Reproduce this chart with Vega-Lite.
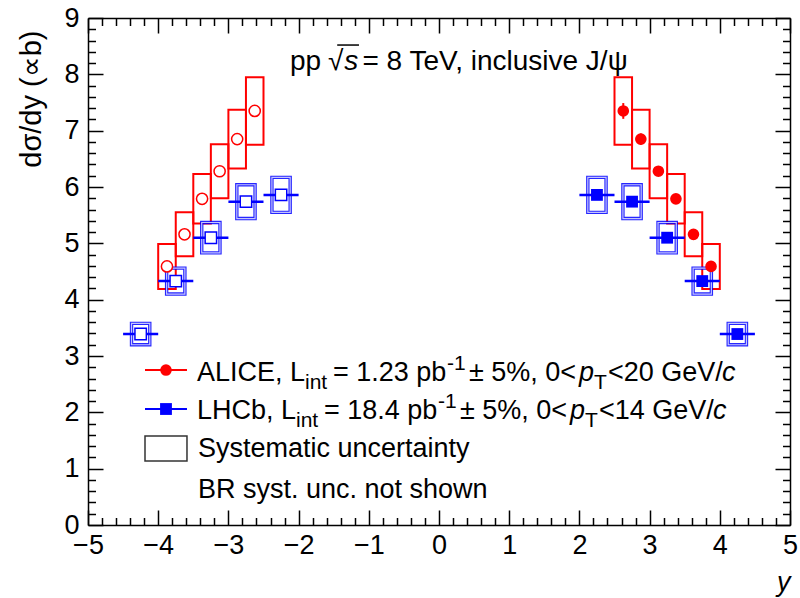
{
  "$schema": "https://vega.github.io/schema/vega-lite/v6.json",
  "width": 702,
  "height": 507,
  "autosize": {"type": "none"},
  "padding": {"left": 88, "top": 18, "right": 10, "bottom": 73},
  "background": "white",
  "config": {
    "view": {"stroke": null},
    "font": "Liberation Sans",
    "axis": {"labelFont": "Liberation Sans", "titleFont": "Liberation Sans", "grid": false, "tickColor": "black", "domainColor": "black", "labelColor": "black", "titleColor": "black", "tickWidth": 1.5, "domainWidth": 1.5}
  },
  "datasets": {
    "pts": [
      {"exp": "ALICE", "side": "meas", "rap": 2.625, "val": 7.35, "statLo": 7.21, "statHi": 7.49, "sysLo": 6.75, "sysHi": 7.95, "boxLo": 2.5, "boxHi": 2.75},
      {"exp": "ALICE", "side": "meas", "rap": 2.875, "val": 6.85, "statLo": 6.75, "statHi": 6.95, "sysLo": 6.33, "sysHi": 7.37, "boxLo": 2.75, "boxHi": 3.0},
      {"exp": "ALICE", "side": "meas", "rap": 3.125, "val": 6.28, "statLo": 6.2, "statHi": 6.36, "sysLo": 5.8, "sysHi": 6.76, "boxLo": 3.0, "boxHi": 3.25},
      {"exp": "ALICE", "side": "meas", "rap": 3.375, "val": 5.79, "statLo": 5.72, "statHi": 5.86, "sysLo": 5.35, "sysHi": 6.23, "boxLo": 3.25, "boxHi": 3.5},
      {"exp": "ALICE", "side": "meas", "rap": 3.625, "val": 5.16, "statLo": 5.09, "statHi": 5.23, "sysLo": 4.77, "sysHi": 5.55, "boxLo": 3.5, "boxHi": 3.75},
      {"exp": "ALICE", "side": "meas", "rap": 3.875, "val": 4.59, "statLo": 4.52, "statHi": 4.66, "sysLo": 4.19, "sysHi": 4.99, "boxLo": 3.75, "boxHi": 4.0},
      {"exp": "ALICE", "side": "refl", "rap": -2.625, "val": 7.35, "statLo": 7.21, "statHi": 7.49, "sysLo": 6.75, "sysHi": 7.95, "boxLo": -2.75, "boxHi": -2.5},
      {"exp": "ALICE", "side": "refl", "rap": -2.875, "val": 6.85, "statLo": 6.75, "statHi": 6.95, "sysLo": 6.33, "sysHi": 7.37, "boxLo": -3.0, "boxHi": -2.75},
      {"exp": "ALICE", "side": "refl", "rap": -3.125, "val": 6.28, "statLo": 6.2, "statHi": 6.36, "sysLo": 5.8, "sysHi": 6.76, "boxLo": -3.25, "boxHi": -3.0},
      {"exp": "ALICE", "side": "refl", "rap": -3.375, "val": 5.79, "statLo": 5.72, "statHi": 5.86, "sysLo": 5.35, "sysHi": 6.23, "boxLo": -3.5, "boxHi": -3.25},
      {"exp": "ALICE", "side": "refl", "rap": -3.625, "val": 5.16, "statLo": 5.09, "statHi": 5.23, "sysLo": 4.77, "sysHi": 5.55, "boxLo": -3.75, "boxHi": -3.5},
      {"exp": "ALICE", "side": "refl", "rap": -3.875, "val": 4.59, "statLo": 4.52, "statHi": 4.66, "sysLo": 4.19, "sysHi": 4.99, "boxLo": -4.0, "boxHi": -3.75},
      {"exp": "LHCb", "side": "meas", "rap": 2.25, "val": 5.86, "statLo": 5.83, "statHi": 5.89, "sysLo": 5.55, "sysHi": 6.17, "boxLo": 2.12, "boxHi": 2.38, "errLo": 2.0, "errHi": 2.5},
      {"exp": "LHCb", "side": "meas", "rap": 2.75, "val": 5.74, "statLo": 5.71, "statHi": 5.77, "sysLo": 5.44, "sysHi": 6.04, "boxLo": 2.62, "boxHi": 2.88, "errLo": 2.5, "errHi": 3.0},
      {"exp": "LHCb", "side": "meas", "rap": 3.25, "val": 5.1, "statLo": 5.07, "statHi": 5.13, "sysLo": 4.83, "sysHi": 5.37, "boxLo": 3.12, "boxHi": 3.38, "errLo": 3.0, "errHi": 3.5},
      {"exp": "LHCb", "side": "meas", "rap": 3.75, "val": 4.33, "statLo": 4.3, "statHi": 4.36, "sysLo": 4.1, "sysHi": 4.56, "boxLo": 3.62, "boxHi": 3.88, "errLo": 3.5, "errHi": 4.0},
      {"exp": "LHCb", "side": "meas", "rap": 4.25, "val": 3.39, "statLo": 3.36, "statHi": 3.42, "sysLo": 3.2, "sysHi": 3.58, "boxLo": 4.12, "boxHi": 4.38, "errLo": 4.0, "errHi": 4.5},
      {"exp": "LHCb", "side": "refl", "rap": -2.25, "val": 5.86, "statLo": 5.83, "statHi": 5.89, "sysLo": 5.55, "sysHi": 6.17, "boxLo": -2.38, "boxHi": -2.12, "errLo": -2.5, "errHi": -2.0},
      {"exp": "LHCb", "side": "refl", "rap": -2.75, "val": 5.74, "statLo": 5.71, "statHi": 5.77, "sysLo": 5.44, "sysHi": 6.04, "boxLo": -2.88, "boxHi": -2.62, "errLo": -3.0, "errHi": -2.5},
      {"exp": "LHCb", "side": "refl", "rap": -3.25, "val": 5.1, "statLo": 5.07, "statHi": 5.13, "sysLo": 4.83, "sysHi": 5.37, "boxLo": -3.38, "boxHi": -3.12, "errLo": -3.5, "errHi": -3.0},
      {"exp": "LHCb", "side": "refl", "rap": -3.75, "val": 4.33, "statLo": 4.3, "statHi": 4.36, "sysLo": 4.1, "sysHi": 4.56, "boxLo": -3.88, "boxHi": -3.62, "errLo": -4.0, "errHi": -3.5},
      {"exp": "LHCb", "side": "refl", "rap": -4.25, "val": 3.39, "statLo": 3.36, "statHi": 3.42, "sysLo": 3.2, "sysHi": 3.58, "boxLo": -4.38, "boxHi": -4.12, "errLo": -4.5, "errHi": -4.0}
    ],
    "one": [{}]
  },
  "data": {"name": "pts"},
  "resolve": {"axis": {"x": "independent", "y": "independent"}},
  "layer": [
    {
      "transform": [{"filter": "datum.exp == 'ALICE'"}],
      "mark": {"type": "rect", "filled": false, "stroke": "#ff0000", "strokeWidth": 2},
      "encoding": {
        "x": {"field": "boxLo", "type": "quantitative", "scale": {"domain": [-5, 5], "nice": false, "zero": false},
          "axis": {"orient": "bottom", "values": [-5, -4, -3, -2, -1, 0, 1, 2, 3, 4, 5], "format": "d", "tickSize": -15, "labelFontSize": 27, "labelPadding": 22, "labelFlush": false, "labelOverlap": false, "domain": true,
            "title": "y", "titleFontStyle": "italic", "titleFontWeight": "normal", "titleFontSize": 27, "titleAnchor": "end", "titleAlign": "right", "titleBaseline": "alphabetic", "titleX": 702, "titleY": 65}},
        "x2": {"field": "boxHi"},
        "y": {"field": "sysLo", "type": "quantitative", "scale": {"domain": [0, 9], "nice": false, "zero": false},
          "axis": {"orient": "left", "values": [0, 1, 2, 3, 4, 5, 6, 7, 8, 9], "format": "d", "tickSize": -15, "labelFontSize": 27, "labelPadding": 24, "labelFlush": false, "labelOverlap": false, "domain": true,
            "title": "dσ/dy (∝b)", "titleFontWeight": "normal", "titleFontSize": 29, "titleAngle": 270, "titleAnchor": "end", "titleAlign": "right", "titleBaseline": "alphabetic", "titleX": -48, "titleY": 12}},
        "y2": {"field": "sysHi"}
      }
    },
    {
      "transform": [{"filter": "datum.exp == 'LHCb'"}],
      "mark": {"type": "rect", "filled": false, "stroke": "#0000ff", "strokeWidth": 3.4, "strokeOpacity": 0.85},
      "encoding": {
        "x": {"field": "boxLo", "type": "quantitative",
          "axis": {"orient": "bottom", "values": [-4.8, -4.6, -4.4, -4.2, -3.8, -3.6, -3.4, -3.2, -2.8, -2.6, -2.4, -2.2, -1.8, -1.6, -1.4, -1.2, -0.8, -0.6, -0.4, -0.2, 0.2, 0.4, 0.6, 0.8, 1.2, 1.4, 1.6, 1.8, 2.2, 2.4, 2.6, 2.8, 3.2, 3.4, 3.6, 3.8, 4.2, 4.4, 4.6, 4.8], "tickSize": -7.5, "labels": false, "domain": false, "title": null}},
        "x2": {"field": "boxHi"},
        "y": {"field": "sysLo", "type": "quantitative",
          "axis": {"orient": "left", "values": [0.2, 0.4, 0.6, 0.8, 1.2, 1.4, 1.6, 1.8, 2.2, 2.4, 2.6, 2.8, 3.2, 3.4, 3.6, 3.8, 4.2, 4.4, 4.6, 4.8, 5.2, 5.4, 5.6, 5.8, 6.2, 6.4, 6.6, 6.8, 7.2, 7.4, 7.6, 7.8, 8.2, 8.4, 8.6, 8.8], "tickSize": -7.5, "labels": false, "domain": false, "title": null}},
        "y2": {"field": "sysHi"}
      }
    },
    {
      "transform": [{"filter": "datum.exp == 'LHCb'"}],
      "mark": {"type": "rect", "filled": false, "stroke": "#c4c4ff", "strokeWidth": 1.2},
      "encoding": {
        "x": {"field": "boxLo", "type": "quantitative",
          "axis": {"orient": "top", "values": [-5, -4, -3, -2, -1, 0, 1, 2, 3, 4, 5], "tickSize": -15, "labels": false, "domain": true, "title": null}},
        "x2": {"field": "boxHi"},
        "y": {"field": "sysLo", "type": "quantitative",
          "axis": {"orient": "right", "values": [0, 1, 2, 3, 4, 5, 6, 7, 8, 9], "tickSize": -15, "labels": false, "domain": true, "title": null}},
        "y2": {"field": "sysHi"}
      }
    },
    {
      "transform": [{"filter": "datum.exp == 'LHCb'"}],
      "mark": {"type": "rule", "stroke": "#0000ff", "strokeWidth": 2.5},
      "encoding": {
        "x": {"field": "errLo", "type": "quantitative",
          "axis": {"orient": "top", "values": [-4.8, -4.6, -4.4, -4.2, -3.8, -3.6, -3.4, -3.2, -2.8, -2.6, -2.4, -2.2, -1.8, -1.6, -1.4, -1.2, -0.8, -0.6, -0.4, -0.2, 0.2, 0.4, 0.6, 0.8, 1.2, 1.4, 1.6, 1.8, 2.2, 2.4, 2.6, 2.8, 3.2, 3.4, 3.6, 3.8, 4.2, 4.4, 4.6, 4.8], "tickSize": -7.5, "labels": false, "domain": false, "title": null}},
        "x2": {"field": "errHi"},
        "y": {"field": "val", "type": "quantitative",
          "axis": {"orient": "right", "values": [0.2, 0.4, 0.6, 0.8, 1.2, 1.4, 1.6, 1.8, 2.2, 2.4, 2.6, 2.8, 3.2, 3.4, 3.6, 3.8, 4.2, 4.4, 4.6, 4.8, 5.2, 5.4, 5.6, 5.8, 6.2, 6.4, 6.6, 6.8, 7.2, 7.4, 7.6, 7.8, 8.2, 8.4, 8.6, 8.8], "tickSize": -7.5, "labels": false, "domain": false, "title": null}}
      }
    },
    {
      "transform": [{"filter": "datum.exp == 'ALICE' && datum.side == 'meas'"}],
      "mark": {"type": "rule", "stroke": "#ff0000", "strokeWidth": 2},
      "encoding": {
        "x": {"field": "rap", "type": "quantitative", "axis": null},
        "y": {"field": "statLo", "type": "quantitative", "axis": null},
        "y2": {"field": "statHi"}
      }
    },
    {
      "transform": [{"filter": "datum.exp == 'ALICE' && datum.side == 'meas'"}],
      "mark": {"type": "point", "shape": "circle", "filled": true, "fill": "#ff0000", "stroke": null, "size": 135, "opacity": 1},
      "encoding": {
        "x": {"field": "rap", "type": "quantitative", "axis": null},
        "y": {"field": "val", "type": "quantitative", "axis": null}
      }
    },
    {
      "transform": [{"filter": "datum.exp == 'ALICE' && datum.side == 'refl'"}],
      "mark": {"type": "point", "shape": "circle", "filled": true, "fill": "white", "stroke": "#ff0000", "strokeWidth": 1.5, "size": 125, "opacity": 1},
      "encoding": {
        "x": {"field": "rap", "type": "quantitative", "axis": null},
        "y": {"field": "val", "type": "quantitative", "axis": null}
      }
    },
    {
      "transform": [{"filter": "datum.exp == 'LHCb' && datum.side == 'meas'"}],
      "mark": {"type": "point", "shape": "square", "filled": true, "fill": "#0000ff", "stroke": null, "size": 140, "opacity": 1},
      "encoding": {
        "x": {"field": "rap", "type": "quantitative", "axis": null},
        "y": {"field": "val", "type": "quantitative", "axis": null}
      }
    },
    {
      "transform": [{"filter": "datum.exp == 'LHCb' && datum.side == 'refl'"}],
      "mark": {"type": "point", "shape": "square", "filled": true, "fill": "white", "stroke": "#0000ff", "strokeWidth": 1.5, "size": 130, "opacity": 1},
      "encoding": {
        "x": {"field": "rap", "type": "quantitative", "axis": null},
        "y": {"field": "val", "type": "quantitative", "axis": null}
      }
    },
    {
      "data": {"name": "one"},
      "mark": {"type": "text", "align": "left", "baseline": "alphabetic", "fontSize": 28, "font": "Liberation Sans", "color": "black"},
      "encoding": {"x": {"datum": -2.1225, "type": "quantitative", "axis": null}, "y": {"datum": 8.077, "type": "quantitative", "axis": null}, "text": {"value": "pp"}}
    },
    {
      "data": {"name": "one"},
      "mark": {"type": "text", "align": "left", "baseline": "alphabetic", "fontSize": 28, "font": "Liberation Sans", "color": "black"},
      "encoding": {"x": {"datum": -1.58, "type": "quantitative", "axis": null}, "y": {"datum": 8.077, "type": "quantitative", "axis": null}, "text": {"value": "√"}}
    },
    {
      "data": {"name": "one"},
      "mark": {"type": "text", "align": "left", "baseline": "alphabetic", "fontSize": 28, "fontStyle": "italic", "font": "Liberation Sans", "color": "black"},
      "encoding": {"x": {"datum": -1.35, "type": "quantitative", "axis": null}, "y": {"datum": 8.077, "type": "quantitative", "axis": null}, "text": {"value": "s"}}
    },
    {
      "data": {"name": "one"},
      "mark": {"type": "text", "align": "left", "baseline": "alphabetic", "fontSize": 28, "font": "Liberation Sans", "color": "black"},
      "encoding": {"x": {"datum": -1.09, "type": "quantitative", "axis": null}, "y": {"datum": 8.077, "type": "quantitative", "axis": null}, "text": {"value": "= 8 TeV, inclusive J/ψ"}}
    },
    {
      "data": {"name": "one"},
      "mark": {"type": "rule", "stroke": "black", "strokeWidth": 1.5},
      "encoding": {"x": {"datum": -1.45, "type": "quantitative", "axis": null}, "x2": {"datum": -1.14}, "y": {"datum": 8.52, "type": "quantitative", "axis": null}}
    },
    {
      "data": {"name": "one"},
      "mark": {"type": "rule", "stroke": "#ff0000", "strokeWidth": 2},
      "encoding": {"x": {"datum": -4.188, "type": "quantitative", "axis": null}, "x2": {"datum": -3.59}, "y": {"datum": 2.751, "type": "quantitative", "axis": null}}
    },
    {
      "data": {"name": "one"},
      "mark": {"type": "point", "shape": "circle", "filled": true, "fill": "#ff0000", "stroke": null, "size": 135, "opacity": 1},
      "encoding": {"x": {"datum": -3.889, "type": "quantitative", "axis": null}, "y": {"datum": 2.751, "type": "quantitative", "axis": null}}
    },
    {
      "data": {"name": "one"},
      "mark": {"type": "rule", "stroke": "#0000ff", "strokeWidth": 2},
      "encoding": {"x": {"datum": -4.188, "type": "quantitative", "axis": null}, "x2": {"datum": -3.59}, "y": {"datum": 2.059, "type": "quantitative", "axis": null}}
    },
    {
      "data": {"name": "one"},
      "mark": {"type": "point", "shape": "square", "filled": true, "fill": "#0000ff", "stroke": null, "size": 140, "opacity": 1},
      "encoding": {"x": {"datum": -3.889, "type": "quantitative", "axis": null}, "y": {"datum": 2.059, "type": "quantitative", "axis": null}}
    },
    {
      "data": {"name": "one"},
      "mark": {"type": "rect", "filled": false, "stroke": "#333333", "strokeWidth": 1.5},
      "encoding": {"x": {"datum": -4.188, "type": "quantitative", "axis": null}, "x2": {"datum": -3.59}, "y": {"datum": 1.136, "type": "quantitative", "axis": null}, "y2": {"datum": 1.58}}
    },
    {
      "data": {"name": "one"},
      "mark": {"type": "text", "align": "left", "baseline": "alphabetic", "fontSize": 27, "font": "Liberation Sans", "color": "black"},
      "encoding": {"x": {"datum": -3.4473, "type": "quantitative", "axis": null}, "y": {"datum": 2.5562, "type": "quantitative", "axis": null}, "text": {"value": "ALICE, L"}}
    },
    {
      "data": {"name": "one"},
      "mark": {"type": "text", "align": "left", "baseline": "alphabetic", "fontSize": 21, "font": "Liberation Sans", "color": "black"},
      "encoding": {"x": {"datum": -1.9088, "type": "quantitative", "axis": null}, "y": {"datum": 2.4142, "type": "quantitative", "axis": null}, "text": {"value": "int"}}
    },
    {
      "data": {"name": "one"},
      "mark": {"type": "text", "align": "left", "baseline": "alphabetic", "fontSize": 27, "font": "Liberation Sans", "color": "black"},
      "encoding": {"x": {"datum": -1.51, "type": "quantitative", "axis": null}, "y": {"datum": 2.5562, "type": "quantitative", "axis": null}, "text": {"value": "= 1.23 pb"}}
    },
    {
      "data": {"name": "one"},
      "mark": {"type": "text", "align": "left", "baseline": "alphabetic", "fontSize": 21, "font": "Liberation Sans", "color": "black"},
      "encoding": {"x": {"datum": 0.114, "type": "quantitative", "axis": null}, "y": {"datum": 2.7515, "type": "quantitative", "axis": null}, "text": {"value": "-1"}}
    },
    {
      "data": {"name": "one"},
      "mark": {"type": "text", "align": "left", "baseline": "alphabetic", "fontSize": 27, "font": "Liberation Sans", "color": "black"},
      "encoding": {"x": {"datum": 0.4274, "type": "quantitative", "axis": null}, "y": {"datum": 2.5562, "type": "quantitative", "axis": null}, "text": {"value": "± 5%, 0<"}}
    },
    {
      "data": {"name": "one"},
      "mark": {"type": "text", "align": "left", "baseline": "alphabetic", "fontSize": 27, "fontStyle": "italic", "font": "Liberation Sans", "color": "black"},
      "encoding": {"x": {"datum": 1.9943, "type": "quantitative", "axis": null}, "y": {"datum": 2.5562, "type": "quantitative", "axis": null}, "text": {"value": "p"}}
    },
    {
      "data": {"name": "one"},
      "mark": {"type": "text", "align": "left", "baseline": "alphabetic", "fontSize": 21, "font": "Liberation Sans", "color": "black"},
      "encoding": {"x": {"datum": 2.208, "type": "quantitative", "axis": null}, "y": {"datum": 2.4142, "type": "quantitative", "axis": null}, "text": {"value": "T"}}
    },
    {
      "data": {"name": "one"},
      "mark": {"type": "text", "align": "left", "baseline": "alphabetic", "fontSize": 27, "font": "Liberation Sans", "color": "black"},
      "encoding": {"x": {"datum": 2.4074, "type": "quantitative", "axis": null}, "y": {"datum": 2.5562, "type": "quantitative", "axis": null}, "text": {"value": "<20 GeV/"}}
    },
    {
      "data": {"name": "one"},
      "mark": {"type": "text", "align": "left", "baseline": "alphabetic", "fontSize": 27, "fontStyle": "italic", "font": "Liberation Sans", "color": "black"},
      "encoding": {"x": {"datum": 4.0313, "type": "quantitative", "axis": null}, "y": {"datum": 2.5562, "type": "quantitative", "axis": null}, "text": {"value": "c"}}
    },
    {
      "data": {"name": "one"},
      "mark": {"type": "text", "align": "left", "baseline": "alphabetic", "fontSize": 27, "font": "Liberation Sans", "color": "black"},
      "encoding": {"x": {"datum": -3.4473, "type": "quantitative", "axis": null}, "y": {"datum": 1.8817, "type": "quantitative", "axis": null}, "text": {"value": "LHCb, L"}}
    },
    {
      "data": {"name": "one"},
      "mark": {"type": "text", "align": "left", "baseline": "alphabetic", "fontSize": 21, "font": "Liberation Sans", "color": "black"},
      "encoding": {"x": {"datum": -2.037, "type": "quantitative", "axis": null}, "y": {"datum": 1.7396, "type": "quantitative", "axis": null}, "text": {"value": "int"}}
    },
    {
      "data": {"name": "one"},
      "mark": {"type": "text", "align": "left", "baseline": "alphabetic", "fontSize": 27, "font": "Liberation Sans", "color": "black"},
      "encoding": {"x": {"datum": -1.6382, "type": "quantitative", "axis": null}, "y": {"datum": 1.8817, "type": "quantitative", "axis": null}, "text": {"value": "= 18.4 pb"}}
    },
    {
      "data": {"name": "one"},
      "mark": {"type": "text", "align": "left", "baseline": "alphabetic", "fontSize": 21, "font": "Liberation Sans", "color": "black"},
      "encoding": {"x": {"datum": -0.0142, "type": "quantitative", "axis": null}, "y": {"datum": 2.0769, "type": "quantitative", "axis": null}, "text": {"value": "-1"}}
    },
    {
      "data": {"name": "one"},
      "mark": {"type": "text", "align": "left", "baseline": "alphabetic", "fontSize": 27, "font": "Liberation Sans", "color": "black"},
      "encoding": {"x": {"datum": 0.2991, "type": "quantitative", "axis": null}, "y": {"datum": 1.8817, "type": "quantitative", "axis": null}, "text": {"value": "± 5%, 0<"}}
    },
    {
      "data": {"name": "one"},
      "mark": {"type": "text", "align": "left", "baseline": "alphabetic", "fontSize": 27, "fontStyle": "italic", "font": "Liberation Sans", "color": "black"},
      "encoding": {"x": {"datum": 1.8661, "type": "quantitative", "axis": null}, "y": {"datum": 1.8817, "type": "quantitative", "axis": null}, "text": {"value": "p"}}
    },
    {
      "data": {"name": "one"},
      "mark": {"type": "text", "align": "left", "baseline": "alphabetic", "fontSize": 21, "font": "Liberation Sans", "color": "black"},
      "encoding": {"x": {"datum": 2.0798, "type": "quantitative", "axis": null}, "y": {"datum": 1.7396, "type": "quantitative", "axis": null}, "text": {"value": "T"}}
    },
    {
      "data": {"name": "one"},
      "mark": {"type": "text", "align": "left", "baseline": "alphabetic", "fontSize": 27, "font": "Liberation Sans", "color": "black"},
      "encoding": {"x": {"datum": 2.2792, "type": "quantitative", "axis": null}, "y": {"datum": 1.8817, "type": "quantitative", "axis": null}, "text": {"value": "<14 GeV/"}}
    },
    {
      "data": {"name": "one"},
      "mark": {"type": "text", "align": "left", "baseline": "alphabetic", "fontSize": 27, "fontStyle": "italic", "font": "Liberation Sans", "color": "black"},
      "encoding": {"x": {"datum": 3.9031, "type": "quantitative", "axis": null}, "y": {"datum": 1.8817, "type": "quantitative", "axis": null}, "text": {"value": "c"}}
    },
    {
      "data": {"name": "one"},
      "mark": {"type": "text", "align": "left", "baseline": "alphabetic", "fontSize": 27, "font": "Liberation Sans", "color": "black"},
      "encoding": {"x": {"datum": -3.433, "type": "quantitative", "axis": null}, "y": {"datum": 1.2071, "type": "quantitative", "axis": null}, "text": {"value": "Systematic uncertainty"}}
    },
    {
      "data": {"name": "one"},
      "mark": {"type": "text", "align": "left", "baseline": "alphabetic", "fontSize": 27, "font": "Liberation Sans", "color": "black"},
      "encoding": {"x": {"datum": -3.433, "type": "quantitative", "axis": null}, "y": {"datum": 0.4793, "type": "quantitative", "axis": null}, "text": {"value": "BR syst. unc. not shown"}}
    }
  ]
}
